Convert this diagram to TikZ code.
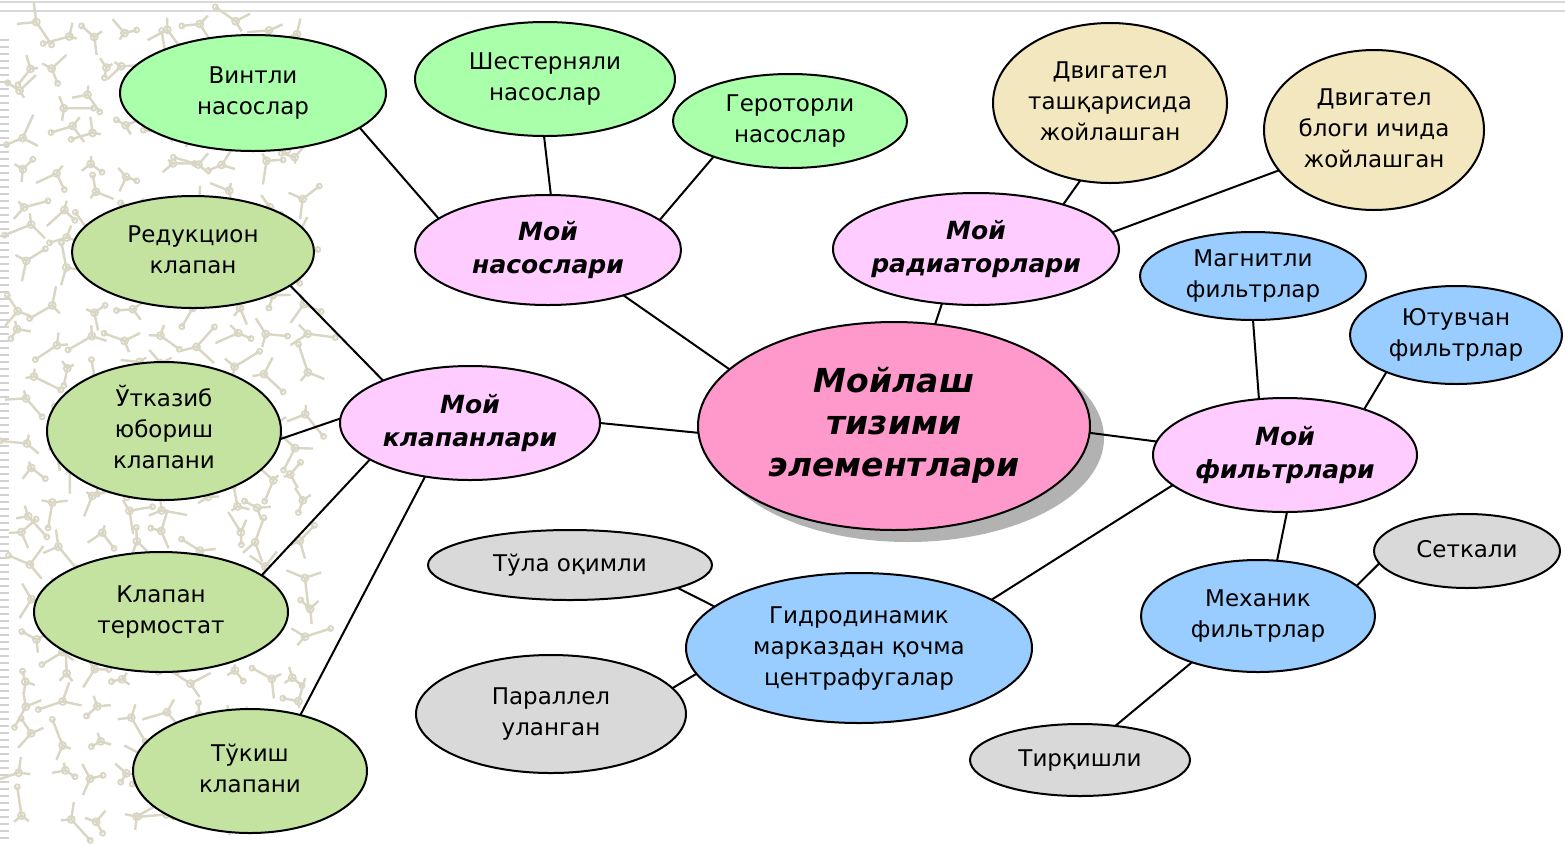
\documentclass[tikz,border=0pt]{standalone}
\usepackage{fontspec}
\setmainfont{DejaVu Sans}
\usetikzlibrary{shapes.geometric,shadows}
\definecolor{pumpc}{HTML}{AAFFAA}
\definecolor{tanc}{HTML}{F3E7BF}
\definecolor{valvec}{HTML}{C4E3A1}
\definecolor{moyc}{HTML}{FFCCFF}
\definecolor{mainc}{HTML}{FF99CC}
\definecolor{bluec}{HTML}{99CCFF}
\definecolor{grayc}{HTML}{D9D9D9}
\definecolor{patc}{HTML}{DAD6C4}
\newcommand{\tx}[1]{\makebox[0pt]{\begin{tabular}{@{}c@{}}#1\end{tabular}}}
\tikzset{
  el/.style={ellipse, draw=black, line width=2pt, inner sep=0pt, outer sep=0pt,
             font=\fontsize{23}{31}\selectfont},
  sz/.style 2 args={minimum width=#1pt, minimum height=#2pt},
  pump/.style={el, fill=pumpc},
  tan/.style={el, fill=tanc},
  valve/.style={el, fill=valvec},
  moy/.style={el, fill=moyc, font=\fontsize{25}{33}\selectfont\bfseries\itshape},
  mainnode/.style={el, fill=mainc, font=\fontsize{33}{42}\selectfont\bfseries\itshape,
             drop shadow={shadow xshift=14pt, shadow yshift=-12pt, fill=black, opacity=0.3}},
  blue/.style={el, fill=bluec},
  grey/.style={el, fill=grayc},
  wire/.style={line width=2pt, black},
  pat/.style={patc, line width=2.4pt}
}
\begin{document}
\begin{tikzpicture}[x=1pt, y=-1pt]
\useasboundingbox (0,0) rectangle (1565,844);
\fill[white] (0,0) rectangle (1565,844);
% slide frame lines
\draw[black!15, line width=1.5pt] (0,2) -- (1565,2);
\draw[black!15, line width=1.5pt] (0,11) -- (1565,11);
\foreach \yy in {40,47,...,840} \draw[black!18, line width=1.5pt] (0,\yy) -- (9,\yy);
% background pattern
\pgfmathsetseed{7}
\foreach \gx in {28,62,...,300}{
  \foreach \gy in {30,64,...,840}{
    \pgfmathsetmacro\px{\gx+(rnd-0.5)*22}
    \pgfmathsetmacro\py{\gy+(rnd-0.5)*22}
    \pgfmathsetmacro\aa{rnd*360}
    \pgfmathsetmacro\ab{\aa+90+rnd*60}
    \pgfmathsetmacro\ac{\aa+200+rnd*60}
    \pgfmathsetmacro\la{10+rnd*20}
    \pgfmathsetmacro\lb{8+rnd*18}
    \pgfmathsetmacro\lc{6+rnd*14}
    \draw[pat] (\px,\py) -- ++(\aa:\la) coordinate (e1)
               (\px,\py) -- ++(\ab:\lb)
               (\px,\py) -- ++(\ac:\lc);
    \draw[patc, line width=1.8pt] (\px,\py) circle[radius=3.5pt];
    \draw[patc, line width=1.8pt] (e1) circle[radius=2.5pt];
  }
}
% nodes
\node[pump, sz={266}{116}] (vint) at (253,93) {\tx{Винтли\\насослар}};
\node[pump, sz={260}{114}] (shest) at (545,79) {\tx{Шестерняли\\насослар}};
\node[pump, sz={234}{94}] (gerot) at (790,121) {\tx{Героторли\\насослар}};
\node[tan, sz={234}{160}] (tash) at (1110,103) {\tx{Двигател\\ташқарисида\\жойлашган}};
\node[tan, sz={220}{160}] (blok) at (1374,130) {\tx{Двигател\\блоги ичида\\жойлашган}};
\node[moy, sz={266}{110}] (mnas) at (548,250) {\tx{Мой\\насослари}};
\node[moy, sz={286}{112}] (mrad) at (976,249) {\tx{Мой\\радиаторлари}};
\node[moy, sz={260}{114}] (mkl) at (470,423) {\tx{Мой\\клапанлари}};
\node[moy, sz={264}{114}] (mfil) at (1285,455) {\tx{Мой\\фильтрлари}};
\node[mainnode, sz={392}{208}] (main) at (894,426) {\tx{Мойлаш\\тизими\\элементлари}};
\node[valve, sz={242}{112}] (red) at (193,252) {\tx{Редукцион\\клапан}};
\node[valve, sz={234}{138}] (utk) at (164,431) {\tx{Ўтказиб\\юбориш\\клапани}};
\node[valve, sz={254}{120}] (term) at (161,612) {\tx{Клапан\\термостат}};
\node[valve, sz={234}{124}] (tuk) at (250,771) {\tx{Тўкиш\\клапани}};
\node[blue, sz={226}{88}] (mag) at (1253,276) {\tx{Магнитли\\фильтрлар}};
\node[blue, sz={212}{98}] (yut) at (1456,335) {\tx{Ютувчан\\фильтрлар}};
\node[blue, sz={234}{112}] (mex) at (1258,616) {\tx{Механик\\фильтрлар}};
\node[blue, sz={346}{150}] (gid) at (859,648) {\tx{Гидродинамик\\марказдан қочма\\центрафугалар}};
\node[grey, sz={284}{70}] (tula) at (570,565) {\tx{Тўла оқимли}};
\node[grey, sz={270}{118}] (par) at (551,714) {\tx{Параллел\\уланган}};
\node[grey, sz={186}{74}] (set) at (1467,551) {\tx{Сеткали}};
\node[grey, sz={220}{72}] (tir) at (1080,760) {\tx{Тирқишли}};
% connectors
\draw[wire] (vint.-18) -- (mnas.164.5);
\draw[wire] (shest.-91) -- (mnas.87);
\draw[wire] (gerot.-155) -- (mnas.15);
\draw[wire] (mnas.-31.6) -- (main.161);
\draw[wire] (mrad.27) -- (tash.-111);
\draw[wire] (mrad.7) -- (blok.-157);
\draw[wire] (mrad.-122) -- (main.68.6);
\draw[wire] (red.-19) -- (mkl.154);
\draw[wire] (utk.-4.4) -- (mkl.178);
\draw[wire] (term.20.8) -- (mkl.-160.6);
\draw[wire] (tuk.48) -- (mkl.-130);
\draw[wire] (mkl.0) -- (main.-178);
\draw[wire] (main.-2.6) -- (mfil.174);
\draw[wire] (mag.-90) -- (mfil.115);
\draw[wire] (yut.-152) -- (mfil.30.5);
\draw[wire] (mfil.-88) -- (mex.71);
\draw[wire] (mfil.-165) -- (gid.20.5);
\draw[wire] (tula.-12) -- (gid.164.6);
\draw[wire] (par.12.8) -- (gid.-171);
\draw[wire] (mex.17) -- (set.-172);
\draw[wire] (mex.-145) -- (tir.44);
\end{tikzpicture}
\end{document}
